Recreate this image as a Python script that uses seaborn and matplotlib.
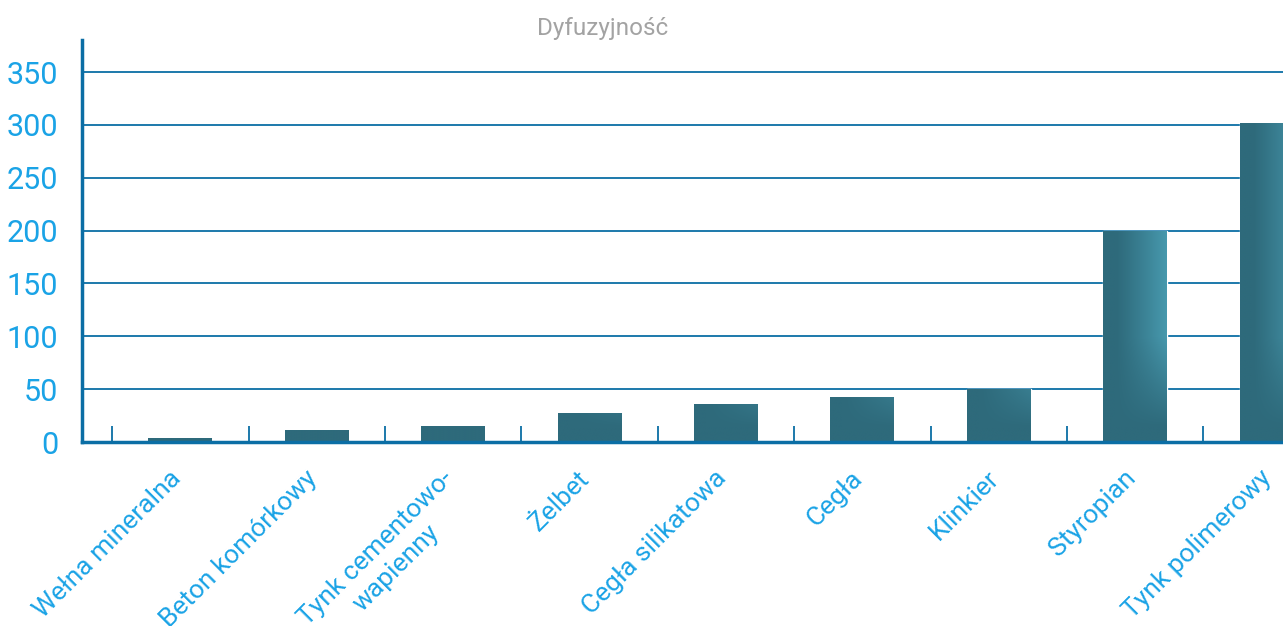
import numpy as np
import pandas as pd
import matplotlib
matplotlib.use('Agg')
import matplotlib.pyplot as plt
import matplotlib.colors as mcolors
from matplotlib.transforms import ScaledTranslation
import seaborn as sns

# data
materials = ['Wełna mineralna', 'Beton komórkowy', 'Tynk cementowo-\nwapienny', 'Żelbet',
             'Cegła silikatowa', 'Cegła', 'Klinkier', 'Styropian', 'Tynk polimerowy']
values = [4, 11, 15, 27, 36, 43, 50, 200, 302]
yticks = [0, 50, 100, 150, 200, 250, 300, 350]
title = 'Dyfuzyjność'

sns.set_theme(style='white')
plt.rcParams['font.family'] = ['Roboto', 'DejaVu Sans']

W, H = 1283, 626
fig = plt.figure(figsize=(W / 100, H / 100), dpi=100)
ax = fig.add_axes([82 / W, (H - 442) / H, 1 - 82 / W, (442 - 40) / H])

df = pd.DataFrame({'material': materials, 'value': values})
sns.barplot(data=df, x='material', y='value', color='#2f6b7b', saturation=1,
            width=0.469, ax=ax, zorder=3)

ymax = 380.3
px_per_unit = (442 - 40) / ymax
dark = np.array(mcolors.to_rgb('#2e6a7b'))
light = np.array(mcolors.to_rgb('#4798ad'))

# gradient fill for each bar
for patch in list(ax.patches):
    x0, w, h = patch.get_x(), patch.get_width(), patch.get_height()
    if h <= 0:
        continue
    rows, cols = 200, 60
    u = np.linspace(0, 1, cols)
    yv = np.linspace(0, h, rows) * px_per_unit
    wh = np.clip((u - 0.2) / 0.8, 0, 1) ** 1.1
    wv = np.clip((yv - 15) / 90, 0, 1)
    wgt = wv[:, None] * wh[None, :]
    img = dark[None, None, :] * (1 - wgt[..., None]) + light[None, None, :] * wgt[..., None]
    im = ax.imshow(img, extent=[x0, x0 + w, 0, h], origin='lower', aspect='auto',
                   zorder=4, interpolation='bilinear')
    im.set_clip_path(patch)

ax.set_xlim(-0.722, 8.083)
ax.set_ylim(0, ymax)
ax.set_yticks(yticks)
ax.set_xlabel('')
ax.set_ylabel('')

axis_blue = '#0b6ea5'
label_blue = '#1aa3e6'
ax.yaxis.grid(True, color=axis_blue, lw=1.3)
ax.xaxis.grid(False)
ax.set_axisbelow(True)
for s in ['top', 'right']:
    ax.spines[s].set_visible(False)
for s in ['left', 'bottom']:
    ax.spines[s].set_color(axis_blue)
    ax.spines[s].set_linewidth(2.5)
    ax.spines[s].set_zorder(5)

ax.tick_params(axis='y', length=0, pad=17, labelsize=22, labelcolor=label_blue)
ax.tick_params(axis='x', which='major', length=0, pad=8, labelsize=19, labelcolor=label_blue)
ax.set_xticks(np.arange(-0.5, 8), minor=True)
ax.tick_params(axis='x', which='minor', bottom=True, direction='in', length=11.5, width=1.3,
               color=axis_blue)
ax.set_xticks(range(len(materials)))
ax.set_xticklabels(materials, rotation=45, ha='right', rotation_mode='anchor',
                   multialignment='center')
shift = ScaledTranslation(-0.12, -0.13, fig.dpi_scale_trans)
for lbl in ax.get_xticklabels():
    lbl.set_transform(lbl.get_transform() + shift)

fig.text(603 / W, 1 - 28 / H, title, ha='center', va='center', color='#a3a3a3', fontsize=17.5)

fig.savefig('out.png', dpi=100)
